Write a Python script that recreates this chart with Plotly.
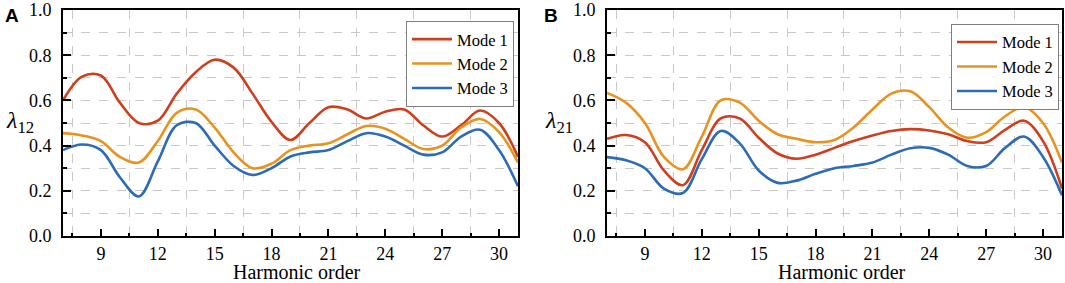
import plotly.graph_objects as go

harmonic = list(range(7, 32))

# Panel A (lambda_12)
a_mode1 = [0.60, 0.705, 0.71, 0.59, 0.50, 0.51, 0.63, 0.725, 0.78, 0.745, 0.63, 0.505, 0.425,
           0.50, 0.57, 0.56, 0.52, 0.55, 0.56, 0.49, 0.44, 0.49, 0.555, 0.50, 0.35]
a_mode2 = [0.455, 0.445, 0.42, 0.35, 0.325, 0.42, 0.545, 0.56, 0.48, 0.37, 0.30, 0.32, 0.38,
           0.40, 0.41, 0.45, 0.487, 0.475, 0.43, 0.385, 0.40, 0.48, 0.518, 0.46, 0.325]
a_mode3 = [0.38, 0.405, 0.38, 0.26, 0.175, 0.33, 0.49, 0.50, 0.40, 0.31, 0.27, 0.30, 0.352,
           0.37, 0.38, 0.42, 0.455, 0.44, 0.40, 0.36, 0.37, 0.44, 0.47, 0.38, 0.22]

# Panel B (lambda_21)
b_mode1 = [0.43, 0.447, 0.415, 0.29, 0.225, 0.38, 0.52, 0.52, 0.435, 0.365, 0.342, 0.36, 0.39,
           0.42, 0.445, 0.465, 0.473, 0.467, 0.45, 0.42, 0.415, 0.47, 0.51, 0.42, 0.21]
b_mode2 = [0.633, 0.59, 0.50, 0.35, 0.295, 0.44, 0.60, 0.59, 0.51, 0.45, 0.43, 0.415, 0.425,
           0.48, 0.56, 0.63, 0.64, 0.57, 0.48, 0.435, 0.46, 0.53, 0.57, 0.50, 0.325]
b_mode3 = [0.349, 0.335, 0.30, 0.21, 0.19, 0.34, 0.465, 0.41, 0.29, 0.235, 0.245, 0.275, 0.30,
           0.31, 0.325, 0.36, 0.388, 0.39, 0.36, 0.31, 0.31, 0.39, 0.44, 0.35, 0.18]

y_ticks = [0.0, 0.2, 0.4, 0.6, 0.8, 1.0]
y_ticktext = ["0.0", "0.2", "0.4", "0.6", "0.8", "1.0"]

mode_names = ["Mode 1", "Mode 2", "Mode 3"]
colors = ["#CF3F1E", "#E8921F", "#2C6BB5"]
x_title = "Harmonic order"

SERIF = "Liberation Serif"
SANS = "Liberation Sans"
W, H = 1065, 283
fig = go.Figure()

for i, ys in enumerate([a_mode1, a_mode2, a_mode3]):
    fig.add_trace(go.Scatter(x=harmonic, y=ys, mode="lines", name=mode_names[i],
                             line=dict(color=colors[i], width=2.6, shape="spline", smoothing=1.0),
                             xaxis="x", yaxis="y", legend="legend"))
for i, ys in enumerate([b_mode1, b_mode2, b_mode3]):
    fig.add_trace(go.Scatter(x=harmonic, y=ys, mode="lines", name=mode_names[i],
                             line=dict(color=colors[i], width=2.6, shape="spline", smoothing=1.0),
                             xaxis="x2", yaxis="y2", legend="legend2"))

grid = dict(showgrid=True, griddash="dash", gridcolor="#c8c8c8", gridwidth=1,
            ticks="inside", ticklen=3.5, tickwidth=1.5, tickcolor="black")

def xax(domain, anchor):
    return dict(domain=domain, anchor=anchor, range=[7, 31], tickmode="linear", tick0=0, dtick=3,
                showgrid=False, zeroline=False, showline=True, linecolor="black", linewidth=2,
                mirror=True, ticks="inside", ticklen=7.5, tickwidth=1.5, tickcolor="black",
                tickfont=dict(family=SERIF, size=18, color="black"),
                minor=dict(tickmode="linear", tick0=0, dtick=1.5, **grid))

def yax(domain, anchor):
    return dict(domain=domain, anchor=anchor, range=[0, 1], tickmode="array", tickvals=y_ticks,
                ticktext=y_ticktext, showgrid=False, zeroline=False, showline=True,
                linecolor="black", linewidth=2, mirror=True, ticks="inside", ticklen=7.5,
                tickwidth=1.5, tickcolor="black", ticklabelstandoff=6, ticklabeloverflow="allow",
                tickfont=dict(family=SERIF, size=18, color="black"),
                minor=dict(tickmode="linear", tick0=0, dtick=0.1, **grid))

xa1 = [63 / W, 518 / W]
xa2 = [607 / W, 1062 / W]

legend_style = dict(bgcolor="white", bordercolor="#7f7f7f", borderwidth=1, xanchor="right",
                    yanchor="top", tracegroupgap=0, itemwidth=40,
                    font=dict(family=SERIF, size=16.5, color="black"))

fig.update_layout(
    width=W, height=H, margin=dict(l=0, r=0, t=7, b=47),
    paper_bgcolor="white", plot_bgcolor="white",
    xaxis=xax(xa1, "y"), yaxis=yax([0, 1], "x"),
    xaxis2=xax(xa2, "y2"), yaxis2=yax([0, 1], "x2"),
    legend=dict(x=514 / W, y=(236 - 18) / 229, **legend_style),
    legend2=dict(x=1059 / W, y=(236 - 21) / 229, **legend_style),
    showlegend=True,
)

for txt, xc in [("<b>A</b>", 12), ("<b>B</b>", 551)]:
    fig.add_annotation(xref="paper", yref="paper", showarrow=False, xanchor="center",
                       yanchor="middle", x=xc / W, y=(236 - 13) / 229, text=txt,
                       font=dict(family=SANS, size=19, color="black"))

for txt, xc in [("<i>λ</i><sub>12</sub>", 20), ("<i>λ</i><sub>21</sub>", 559)]:
    fig.add_annotation(xref="paper", yref="paper", showarrow=False, xanchor="center",
                       yanchor="middle", x=xc / W, y=(236 - 120) / 229, text=txt,
                       font=dict(family=SERIF, size=24, color="black"))

for xc in [297, 842]:
    fig.add_annotation(xref="paper", yref="paper", showarrow=False, xanchor="center",
                       yanchor="middle", x=xc / W, y=(236 - 272) / 229, text=x_title,
                       font=dict(family=SERIF, size=20, color="black"))

fig.write_html("out.html", config={"displayModeBar": False},
               post_script="document.body.style.margin='0';")
